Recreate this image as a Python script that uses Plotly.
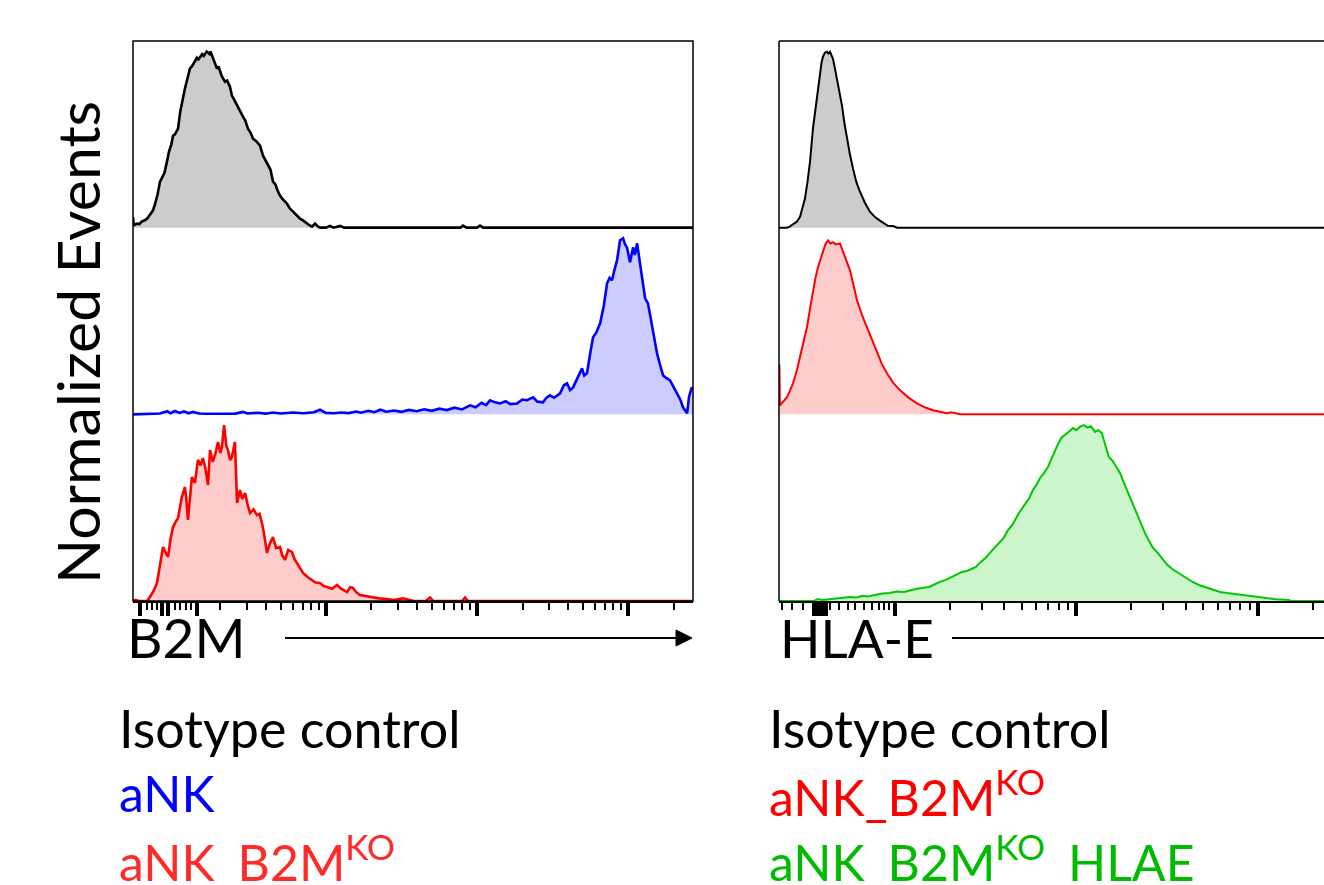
import numpy as np
import plotly.graph_objects as go

# ---------------- data (log10 intensity, % of mode) ----------------
B2M_ISOTYPE = [
    (1.722, 6.0), (1.728, 1.2), (1.736, 1.8), (1.748, 2.3), (1.765, 2.0), (1.78, 3.5), (1.80, 4.2),
    (1.815, 5.1), (1.835, 7.5), (1.854, 9.7), (1.87, 14.0), (1.885, 19.0), (1.901, 26.1), (1.915, 29.0),
    (1.93, 31.0), (1.947, 37.5), (1.96, 43.0), (1.975, 47.0), (1.987, 52.2), (2.000, 53.0), (2.010, 55.0),
    (2.020, 56.2), (2.035, 66.0), (2.053, 75.0), (2.066, 79.0), (2.079, 83.5), (2.090, 87.0), (2.099, 90.3),
    (2.115, 92.0), (2.132, 94.8), (2.145, 96.5), (2.155, 95.5), (2.166, 97.1), (2.18, 98.5), (2.19, 97.5),
    (2.199, 98.8), (2.21, 100.0), (2.219, 99.4), (2.228, 98.6), (2.235, 100.0), (2.245, 97.7), (2.255, 96.0),
    (2.265, 93.0), (2.278, 90.3), (2.288, 91.5), (2.298, 89.2), (2.31, 86.0), (2.331, 82.9), (2.345, 83.5),
    (2.364, 80.1), (2.377, 75.0), (2.39, 73.0), (2.411, 69.3), (2.43, 66.0), (2.450, 63.0), (2.465, 61.0),
    (2.483, 56.2), (2.50, 54.0), (2.517, 50.5), (2.54, 49.0), (2.563, 46.6), (2.583, 40.9), (2.60, 38.0),
    (2.616, 35.2), (2.632, 33.0), (2.649, 26.1), (2.665, 24.5), (2.68, 21.0), (2.695, 18.2), (2.71, 16.5),
    (2.725, 15.2), (2.742, 13.6), (2.76, 11.0), (2.781, 9.1), (2.80, 7.5), (2.828, 5.1), (2.85, 4.0),
    (2.874, 2.3), (2.89, 1.4), (2.907, 0.6), (2.927, 2.3), (2.945, 0.8), (2.960, 0.0), (3.00, 0.0),
    (3.026, 1.0), (3.05, 0.0), (3.093, 1.0), (3.12, 0.0), (3.89, 0.0), (3.907, 1.2), (3.93, 0.0),
    (4.00, 0.0), (4.020, 1.2), (4.04, 0.0), (5.43, 0.0),
]

B2M_ANK = [
    (1.722, 0.0), (1.80, 0.3), (1.90, 0.5), (1.95, 1.8), (1.97, 0.6), (2.00, 1.9), (2.03, 0.8), (2.06, 1.7),
    (2.09, 0.6), (2.12, 1.4), (2.16, 0.5), (2.20, 0.3), (2.30, 0.2), (2.40, 0.4), (2.45, 1.4), (2.48, 0.5),
    (2.55, 0.9), (2.60, 0.4), (2.65, 1.0), (2.70, 0.5), (2.78, 1.0), (2.85, 0.6), (2.92, 1.2), (2.96, 2.6),
    (3.00, 0.8), (3.05, 0.6), (3.10, 1.0), (3.15, 0.7), (3.20, 1.6), (3.23, 0.9), (3.28, 2.0), (3.32, 1.2),
    (3.36, 2.6), (3.40, 1.5), (3.45, 2.2), (3.50, 1.4), (3.55, 2.5), (3.60, 1.8), (3.65, 2.9), (3.70, 2.0),
    (3.75, 3.2), (3.80, 2.4), (3.85, 3.8), (3.90, 2.8), (3.954, 5.1), (3.99, 4.0), (4.03, 6.5), (4.06, 5.2),
    (4.086, 8.0), (4.12, 6.8), (4.152, 6.2), (4.19, 7.5), (4.22, 5.8), (4.265, 6.2), (4.30, 8.4), (4.331, 8.0),
    (4.371, 9.7), (4.40, 7.2), (4.437, 6.8), (4.46, 9.5), (4.483, 10.8), (4.51, 9.4), (4.550, 11.9),
    (4.575, 16.5), (4.596, 17.6), (4.616, 13.8), (4.636, 15.3), (4.66, 19.5), (4.695, 26.1), (4.71, 22.0),
    (4.728, 23.3), (4.75, 35.0), (4.768, 43.7), (4.79, 46.5), (4.815, 51.7), (4.84, 62.0), (4.861, 74.4),
    (4.878, 77.5), (4.894, 76.1), (4.91, 82.0), (4.927, 87.5), (4.947, 98.8), (4.967, 100.0), (4.98, 96.5),
    (4.993, 94.8), (5.013, 86.3), (5.025, 92.0), (5.033, 94.8), (5.045, 90.5), (5.060, 97.1), (5.079, 85.7),
    (5.095, 76.0), (5.113, 65.9), (5.132, 63.0), (5.16, 50.0), (5.192, 34.6), (5.212, 28.0), (5.232, 22.1),
    (5.255, 20.5), (5.278, 19.3), (5.30, 15.8), (5.325, 11.9), (5.345, 8.5), (5.364, 4.0), (5.38, 2.0),
    (5.391, 0.6), (5.404, 10.0), (5.42, 14.8), (5.43, 14.8),
]

B2M_ANK_B2MKO = [
    (1.722, 0.0), (1.74, 0.6), (1.76, 0.0), (1.815, 0.0), (1.834, 2.3), (1.86, 6.0), (1.881, 10.2),
    (1.90, 20.0), (1.921, 30.7), (1.935, 28.0), (1.954, 25.0), (1.97, 35.0), (1.987, 42.0), (2.005, 45.0),
    (2.020, 47.1), (2.035, 54.0), (2.046, 59.1), (2.066, 64.7), (2.075, 58.0), (2.086, 46.0), (2.10, 62.0),
    (2.112, 70.4), (2.132, 67.0), (2.152, 80.1), (2.17, 77.0), (2.185, 81.2), (2.20, 76.0), (2.219, 65.9),
    (2.232, 85.7), (2.25, 79.0), (2.265, 82.9), (2.285, 90.3), (2.30, 84.0), (2.311, 87.5), (2.325, 99.9),
    (2.34, 88.0), (2.351, 85.7), (2.365, 80.0), (2.377, 81.8), (2.397, 90.3), (2.411, 55.7), (2.430, 63.0),
    (2.445, 58.0), (2.464, 61.3), (2.48, 55.0), (2.497, 50.0), (2.52, 52.0), (2.543, 48.8), (2.56, 49.5),
    (2.576, 44.3), (2.59, 38.0), (2.609, 27.3), (2.63, 33.0), (2.649, 36.3), (2.67, 30.0), (2.695, 30.7),
    (2.71, 26.0), (2.728, 23.3), (2.75, 29.0), (2.775, 27.8), (2.79, 24.0), (2.808, 21.6), (2.83, 18.0),
    (2.848, 15.9), (2.88, 13.5), (2.907, 11.9), (2.93, 10.5), (2.960, 10.2), (2.985, 8.5), (3.007, 8.0),
    (3.04, 7.0), (3.073, 9.1), (3.10, 7.0), (3.139, 5.1), (3.16, 7.8), (3.179, 7.4), (3.20, 5.0),
    (3.225, 3.4), (3.26, 2.8), (3.311, 2.3), (3.35, 1.5), (3.404, 1.1), (3.45, 0.5), (3.510, 1.5),
    (3.536, 1.1), (3.58, 0.0), (3.66, 0.0), (3.689, 2.0), (3.71, 0.0), (3.90, 0.0), (3.921, 2.0),
    (3.94, 0.0), (5.43, 0.0),
]

HLAE_ISOTYPE = [
    (2.361, 0.0), (2.405, 0.0), (2.42, 0.6), (2.438, 1.7), (2.46, 3.5), (2.477, 6.2), (2.49, 10.5),
    (2.504, 16.5), (2.518, 26.0), (2.532, 37.5), (2.548, 56.2), (2.560, 66.0), (2.570, 75.0), (2.580, 83.0),
    (2.587, 88.6), (2.595, 93.5), (2.603, 97.1), (2.614, 99.3), (2.625, 99.9), (2.633, 98.9), (2.642, 99.9),
    (2.650, 98.2), (2.658, 96.0), (2.668, 91.0), (2.680, 84.6), (2.694, 77.0), (2.708, 69.3), (2.722, 59.0),
    (2.736, 50.5), (2.752, 41.5), (2.769, 33.5), (2.787, 26.0), (2.807, 20.4), (2.835, 14.0), (2.862, 9.1),
    (2.89, 6.0), (2.917, 4.0), (2.94, 2.5), (2.961, 1.1), (2.99, 1.0), (3.011, 0.0), (5.364, 0.0),
]

HLAE_ANK_B2MKO = [
    (2.361, 27.8), (2.363, 27.8), (2.366, 5.1), (2.385, 7.2), (2.405, 9.7), (2.42, 13.0), (2.438, 17.6),
    (2.457, 24.0), (2.477, 32.4), (2.496, 41.0), (2.515, 49.4), (2.532, 60.0), (2.548, 70.4), (2.562, 77.5),
    (2.576, 83.5), (2.590, 88.5), (2.603, 93.1), (2.617, 96.8), (2.631, 98.8), (2.645, 97.0), (2.658, 97.7),
    (2.675, 96.5), (2.697, 97.1), (2.71, 93.5), (2.725, 89.2), (2.738, 85.5), (2.752, 81.8), (2.77, 74.0),
    (2.791, 64.7), (2.818, 56.5), (2.846, 49.4), (2.873, 41.5), (2.901, 34.6), (2.928, 28.5), (2.956, 23.3),
    (2.99, 18.0), (3.028, 13.6), (3.075, 9.5), (3.121, 6.2), (3.165, 4.0), (3.209, 2.3), (3.25, 1.4),
    (3.287, 0.6), (3.31, 1.2), (3.358, 0.0), (5.364, 0.0),
]

HLAE_ANK_B2MKO_HLAE = [
    (2.361, 0.0), (2.554, 0.0), (2.573, 1.1), (2.60, 0.6), (2.65, 1.2), (2.70, 1.6), (2.752, 2.3),
    (2.79, 2.0), (2.82, 3.0), (2.85, 2.6), (2.890, 3.4), (2.93, 4.2), (2.97, 4.5), (3.010, 5.4),
    (3.050, 5.1), (3.09, 6.2), (3.12, 7.0), (3.150, 7.4), (3.187, 8.0), (3.22, 9.5), (3.25, 11.0),
    (3.280, 12.0), (3.309, 13.6), (3.34, 15.3), (3.370, 16.5), (3.40, 17.2), (3.446, 19.3), (3.47, 21.9),
    (3.50, 24.5), (3.523, 27.3), (3.55, 30.5), (3.58, 33.5), (3.60, 36.0), (3.623, 40.3), (3.650, 43.8),
    (3.683, 50.0), (3.70, 52.5), (3.72, 56.0), (3.74, 58.5), (3.760, 63.0), (3.78, 66.0), (3.80, 70.0),
    (3.82, 72.5), (3.843, 76.1), (3.86, 80.5), (3.88, 85.0), (3.90, 89.5), (3.920, 93.1), (3.94, 94.5),
    (3.96, 96.5), (3.981, 98.2), (4.00, 97.0), (4.02, 99.0), (4.041, 99.9), (4.06, 98.5), (4.08, 99.2),
    (4.102, 96.0), (4.12, 97.0), (4.140, 95.4), (4.160, 88.0), (4.179, 81.8), (4.20, 79.5), (4.220, 76.0),
    (4.240, 72.7), (4.26, 67.5), (4.28, 62.5), (4.30, 57.5), (4.317, 53.4), (4.34, 47.5), (4.36, 42.5),
    (4.38, 38.0), (4.397, 34.6), (4.42, 30.5), (4.45, 27.0), (4.477, 23.3), (4.50, 20.5), (4.53, 18.0),
    (4.576, 14.8), (4.61, 12.5), (4.64, 10.8), (4.675, 9.1), (4.71, 7.8), (4.75, 6.3), (4.791, 5.1),
    (4.83, 4.5), (4.88, 3.8), (4.934, 3.4), (4.98, 2.5), (5.033, 1.7), (5.10, 1.0), (5.171, 0.6),
    (5.18, 0.0), (5.364, 0.0),
]

# axis ranges (log10 intensity)
B2M_RANGE = [1.722, 5.43]
HLAE_RANGE = [2.361, 5.364]

# tick values (intensity)
B2M_MAJOR = [58.6, 82.1, 89.9, 140, 1e3, 1e4, 1e5]
B2M_MINOR = [65.3, 70.5, 76.1, 100, 108, 118, 128,
             200, 300, 400, 500, 600, 700, 800, 900,
             2e3, 3e3, 4e3, 5e3, 6e3, 7e3, 8e3, 9e3,
             2e4, 3e4, 4e4, 5e4, 6e4, 7e4, 8e4, 9e4, 2e5]
HLAE_MAJOR = [358, 378, 396, 416, 1e3, 1e4, 1e5]
HLAE_MINOR = [237, 271, 311, 438, 491, 551, 602, 675, 743, 816, 869, 932,
              2e3, 3e3, 4e3, 5e3, 6e3, 7e3, 8e3, 9e3,
              2e4, 3e4, 4e4, 5e4, 6e4, 7e4, 8e4, 9e4, 2e5]

SLOT = 106.0  # height of one stacked histogram lane in % units

LEFT_SERIES = [  # (data, lane offset index, line colour, fill colour)
    (B2M_ANK_B2MKO, 0, "#ff0000", "#ffcccc"),
    (B2M_ANK, 1, "#0000ff", "#ccccff"),
    (B2M_ISOTYPE, 2, "#000000", "#cccccc"),
]
RIGHT_SERIES = [
    (HLAE_ANK_B2MKO_HLAE, 0, "#00c800", "#ccf5cc"),
    (HLAE_ANK_B2MKO, 1, "#ff0000", "#ffcccc"),
    (HLAE_ISOTYPE, 2, "#000000", "#cccccc"),
]

W, H = 1324, 885
FONT = "Lato, 'Open Sans', sans-serif"


def px(x):
    return x / W


def py(y):
    return 1 - y / H


fig = go.Figure()


def add_series(series, xa, ya, lw):
    for data, lane, lc, fc in series:
        lx, val = zip(*data)
        xs = [10 ** v for v in lx]
        base = lane * SLOT
        ys = [base + v for v in val]
        fig.add_trace(go.Scatter(x=[xs[0], xs[-1]], y=[base, base], mode="lines",
                                 line=dict(width=0, color=fc), xaxis=xa, yaxis=ya,
                                 hoverinfo="skip", showlegend=False))
        fig.add_trace(go.Scatter(x=xs, y=ys, mode="lines", fill="tonexty", fillcolor=fc,
                                 line=dict(color=lc, width=lw), xaxis=xa, yaxis=ya,
                                 showlegend=False))


add_series(LEFT_SERIES, "x", "y", 2.6)
add_series(RIGHT_SERIES, "x2", "y2", 2.0)

xcommon = dict(type="log", showgrid=False, zeroline=False, showline=True, linecolor="black",
               linewidth=1.5, ticks="outside", tickcolor="black", ticklen=13, tickwidth=3.5,
               showticklabels=False, tickmode="array")
fig.update_layout(
    xaxis=dict(domain=[px(133), px(693)], range=B2M_RANGE, tickvals=B2M_MAJOR,
               minor=dict(tickmode="array", tickvals=B2M_MINOR, ticks="outside", ticklen=7,
                          tickwidth=2, tickcolor="black", showgrid=False), anchor="y", **xcommon),
    xaxis2=dict(domain=[px(779), 1.0], range=HLAE_RANGE, tickvals=HLAE_MAJOR,
                minor=dict(tickmode="array", tickvals=HLAE_MINOR, ticks="outside", ticklen=7,
                           tickwidth=2, tickcolor="black", showgrid=False), anchor="y2", **xcommon),
    yaxis=dict(domain=[py(601), py(41)], range=[0, 3 * SLOT], showgrid=False, zeroline=False,
               showline=False, showticklabels=False, ticks="", anchor="x"),
    yaxis2=dict(domain=[py(601), py(41)], range=[0, 3 * SLOT], showgrid=False, zeroline=False,
                showline=False, showticklabels=False, ticks="", anchor="x2"),
    width=W, height=H, margin=dict(l=0, r=0, t=0, b=0),
    paper_bgcolor="white", plot_bgcolor="white", showlegend=False,
    font=dict(family=FONT, color="black"),
)

# frames
fig.add_shape(type="rect", xref="x domain", yref="y domain", x0=0, x1=1, y0=0, y1=1,
              line=dict(color="black", width=1.5))
fig.add_shape(type="line", xref="x2 domain", yref="y2 domain", x0=0, x1=1, y0=1, y1=1,
              line=dict(color="black", width=1.5))
fig.add_shape(type="line", xref="x2 domain", yref="y2 domain", x0=0, x1=0, y0=0, y1=1,
              line=dict(color="black", width=1.5))

# axis arrows
fig.add_shape(type="line", xref="paper", yref="paper", x0=px(285), x1=px(678), y0=py(638), y1=py(638),
              line=dict(color="black", width=2))
fig.add_shape(type="path", xref="paper", yref="paper",
              path=f"M {px(676)},{py(630)} L {px(692)},{py(638)} L {px(676)},{py(646)} Z",
              fillcolor="black", line=dict(color="black", width=1))
fig.add_shape(type="line", xref="paper", yref="paper", x0=px(952), x1=1.0, y0=py(638), y1=py(638),
              line=dict(color="black", width=2))

def text(x, y, s, size, color="black", anchor="left", angle=0):
    fig.add_annotation(x=px(x), y=py(y), xref="paper", yref="paper", text=s, showarrow=False,
                       xanchor=anchor, yanchor="middle", textangle=angle,
                       font=dict(family=FONT, size=size, color=color))

text(78, 343, "Normalized Events", 59, anchor="center", angle=-90)
text(125, 637, "B2M", 55)
text(778, 637, "HLA-E", 53)

text(117, 728, "Isotype control", 52)
text(117, 793, "aNK", 50, color="#0000ff")
text(117, 858, "aNK_B2M<sup>KO</sup>", 50, color="#ff2a2a")

text(767, 728, "Isotype control", 52)
text(767, 793, "aNK_B2M<sup>KO</sup>", 50, color="#ff0000")
text(767, 858, "aNK_B2M<sup>KO</sup>_HLAE", 50, color="#00bb00")

fig.write_html("out.html", config={"displayModeBar": False},
               post_script="document.body.style.margin='0';")
